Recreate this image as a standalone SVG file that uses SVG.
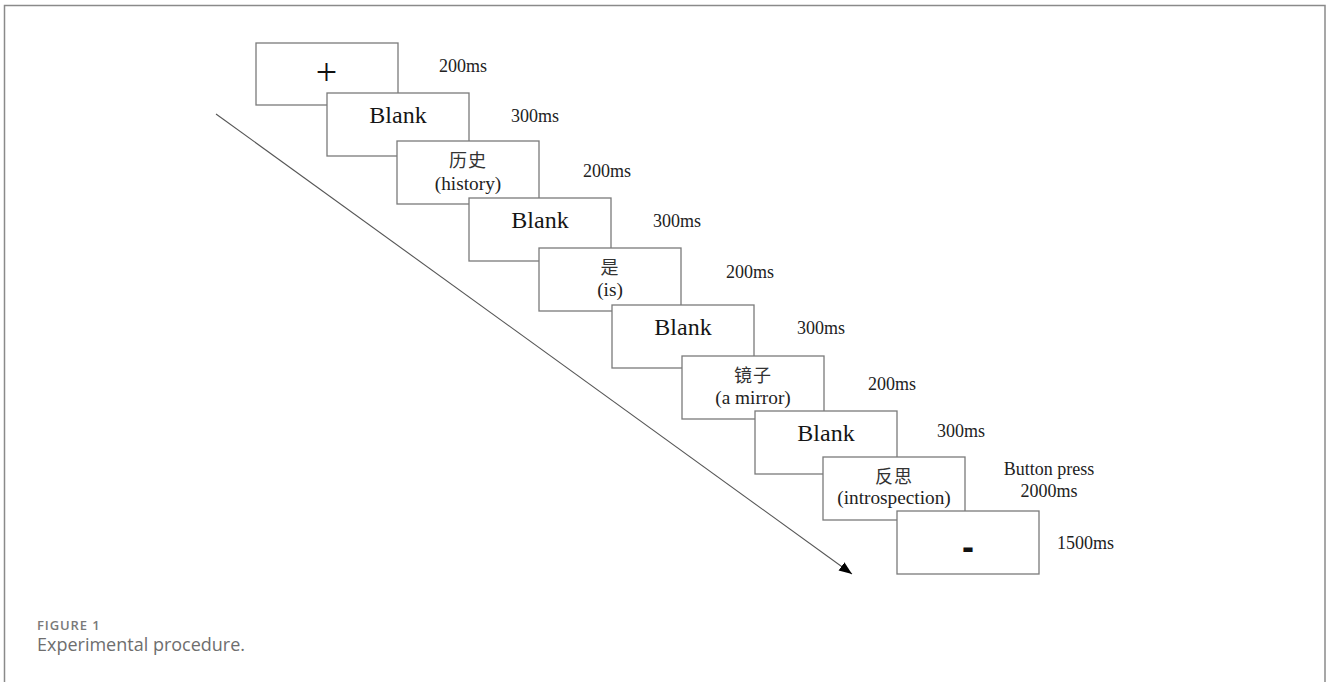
<svg xmlns="http://www.w3.org/2000/svg" width="1328" height="682" viewBox="0 0 1328 682">
<style>
.box{fill:#fff;stroke:#7a7a7a;stroke-width:1.3}
.blank{font-family:"Liberation Serif",serif;font-size:24px;fill:#151515;text-anchor:middle}
.cjk{font-family:"Liberation Serif","Noto Sans CJK SC",serif;font-size:18px;fill:#333;text-anchor:middle;letter-spacing:1px}
.en{font-family:"Liberation Serif",serif;font-size:19.3px;fill:#222;text-anchor:middle}
.lab{font-family:"Liberation Serif",serif;font-size:18px;fill:#222}
.frame{fill:none;stroke:#8a8a8a;stroke-width:1.5}
.cap1{font-family:"Open Sans",sans-serif;font-size:13px;font-weight:600;fill:#7a7a7a;letter-spacing:0.9px}
.cap2{font-family:"Open Sans",sans-serif;font-size:18px;fill:#6e6e6e}
</style>
<defs>
<marker id="ah" markerUnits="userSpaceOnUse" markerWidth="15" markerHeight="12" refX="13" refY="5" orient="auto">
<path d="M0,0 L13,5 L0,10 z" fill="#000"/>
</marker>
</defs>
<rect class="frame" x="4.5" y="5.5" width="1320.5" height="690"/>
<g id="connectors">
<line x1="216" y1="114" x2="852" y2="574" stroke="#555" stroke-width="1.1" marker-end="url(#ah)"/>
</g>
<g id="n1"><rect class="box" x="256" y="43" width="142" height="62"/><text x="326.5" y="85" style="font-family:'Liberation Serif',serif;font-size:38px;fill:#111;text-anchor:middle">+</text></g>
<g id="n2"><rect class="box" x="327" y="93" width="142" height="63"/><text class="blank" x="398" y="123">Blank</text></g>
<g id="n3"><rect class="box" x="397" y="141" width="142" height="63"/><text class="cjk" x="468" y="166.5">历史</text><text class="en" x="468" y="190">(history)</text></g>
<g id="n4"><rect class="box" x="469" y="198" width="142" height="63"/><text class="blank" x="540" y="228">Blank</text></g>
<g id="n5"><rect class="box" x="539" y="248" width="142" height="63"/><text class="cjk" x="610" y="273.5">是</text><text class="en" x="610" y="296">(is)</text></g>
<g id="n6"><rect class="box" x="612" y="305" width="142" height="63"/><text class="blank" x="683" y="335">Blank</text></g>
<g id="n7"><rect class="box" x="682" y="356" width="142" height="63"/><text class="cjk" x="753" y="381.5">镜子</text><text class="en" x="753" y="404">(a mirror)</text></g>
<g id="n8"><rect class="box" x="755" y="411" width="142" height="63"/><text class="blank" x="826" y="441">Blank</text></g>
<g id="n9"><rect class="box" x="823" y="457" width="142" height="63"/><text class="cjk" x="894" y="482.5">反思</text><text class="en" x="894" y="504">(introspection)</text></g>
<g id="n10"><rect class="box" x="897" y="511" width="142" height="63"/><text x="968" y="559" style="font-family:'Liberation Sans',sans-serif;font-weight:bold;font-size:36px;fill:#111;text-anchor:middle">-</text></g>
<g id="labels">
<text class="lab" x="439" y="72">200ms</text>
<text class="lab" x="511" y="121.5">300ms</text>
<text class="lab" x="583" y="176.5">200ms</text>
<text class="lab" x="653" y="227">300ms</text>
<text class="lab" x="726" y="278">200ms</text>
<text class="lab" x="797" y="334">300ms</text>
<text class="lab" x="868" y="390">200ms</text>
<text class="lab" x="937" y="437">300ms</text>
<text class="lab" x="1049" y="475" text-anchor="middle">Button press</text>
<text class="lab" x="1049" y="497" text-anchor="middle">2000ms</text>
<text class="lab" x="1057" y="549">1500ms</text>
</g>
<g id="caption">
<text class="cap1" x="37" y="630">FIGURE 1</text>
<text class="cap2" x="37" y="651">Experimental procedure.</text>
</g>
</svg>
